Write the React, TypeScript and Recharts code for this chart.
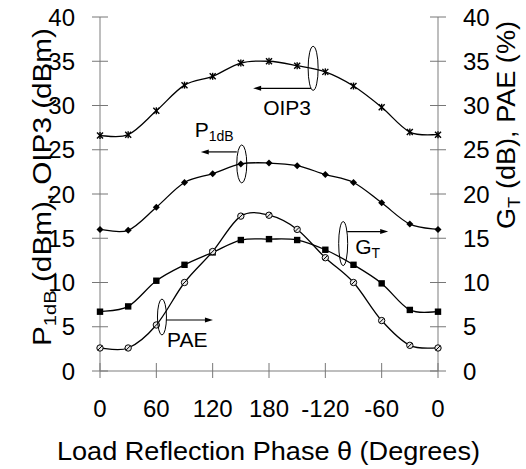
import React from 'react'
import { LineChart, Line, XAxis, YAxis, ReferenceDot } from 'recharts'

// phase in degrees, 0..360 (labelled 0..180, -120..0)
const phase = [0, 30, 60, 90, 120, 150, 180, 210, 240, 270, 300, 330, 360]
const oip3 = [26.6, 26.7, 29.4, 32.3, 33.3, 34.8, 35.0, 34.5, 33.8, 32.2, 29.8, 27.0, 26.7]
const p1db = [16.0, 15.9, 18.5, 21.3, 22.3, 23.4, 23.5, 23.2, 22.2, 21.3, 19.0, 16.6, 16.0]
const gt = [6.7, 7.3, 10.2, 12.0, 13.4, 14.8, 14.9, 14.8, 13.7, 12.0, 9.9, 6.9, 6.7]
const pae = [2.6, 2.6, 5.2, 10.0, 13.5, 17.5, 17.6, 16.0, 12.8, 10.0, 5.7, 2.9, 2.6]

const xTicks = [0, 60, 120, 180, 240, 300, 360]
const xTickLabels = ['0', '60', '120', '180', '-120', '-60', '0']
const yTicks = [0, 5, 10, 15, 20, 25, 30, 35, 40]

const data = phase.map((p, i) => ({ phase: p, oip3: oip3[i], p1db: p1db[i], gt: gt[i], pae: pae[i] }))

const FONT = '"Liberation Sans", Arial, sans-serif'
const AXIS_GRAY = '#a8a8a8'
const TICK_GRAY = '#777'
const W = 526
const H = 469
const LEFT_W = 100
const RIGHT_W = 88
const BOTTOM_H = 98
const AXIS_L = LEFT_W
const AXIS_R = W - RIGHT_W

// Excel-like smooth line (Catmull-Rom through every point)
function smooth(context: any) {
  let pts: number[][] = []
  return {
    areaStart() {},
    areaEnd() {},
    lineStart() { pts = [] },
    point(x: number, y: number) { pts.push([x, y]) },
    lineEnd() {
      const n = pts.length
      if (!n) return
      context.moveTo(pts[0][0], pts[0][1])
      for (let i = 0; i < n - 1; i++) {
        const p0 = pts[i - 1] || pts[i]
        const p1 = pts[i]
        const p2 = pts[i + 1]
        const p3 = pts[i + 2] || p2
        context.bezierCurveTo(
          p1[0] + (p2[0] - p0[0]) / 6, p1[1] + (p2[1] - p0[1]) / 6,
          p2[0] - (p3[0] - p1[0]) / 6, p2[1] - (p3[1] - p1[1]) / 6,
          p2[0], p2[1],
        )
      }
    },
  }
}

const StarDot = ({ cx, cy }: any) => (
  <g stroke="#000" strokeWidth={1.4}>
    <line x1={cx - 3} y1={cy - 3} x2={cx + 3} y2={cy + 3} />
    <line x1={cx - 3} y1={cy + 3} x2={cx + 3} y2={cy - 3} />
    <line x1={cx} y1={cy - 3.5} x2={cx} y2={cy + 3.5} />
  </g>
)
const DiamondDot = ({ cx, cy }: any) => (
  <polygon points={`${cx},${cy - 3.5} ${cx + 3.5},${cy} ${cx},${cy + 3.5} ${cx - 3.5},${cy}`} fill="#000" />
)
const SquareDot = ({ cx, cy }: any) => <rect x={cx - 3.2} y={cy - 3.2} width={6.4} height={6.4} fill="#000" />
const CircleDot = ({ cx, cy }: any) => (
  <g stroke="#000" strokeWidth={1}>
    <circle cx={cx} cy={cy} r={3.2} fill="#e8e8e8" />
    <line x1={cx - 2.2} y1={cy + 2.2} x2={cx + 2.2} y2={cy - 2.2} />
  </g>
)

const LeftTick = ({ y, payload }: any) => (
  <g>
    <line x1={AXIS_L - 8} y1={y} x2={AXIS_L + 8} y2={y} stroke={TICK_GRAY} />
    <text x={AXIS_L - 25} y={y} dy="0.36em" textAnchor="end" fontSize={24} fontFamily={FONT} fill="#000">{payload.value}</text>
  </g>
)
const RightTick = ({ y, payload }: any) => (
  <g>
    <line x1={AXIS_R - 8} y1={y} x2={AXIS_R + 8} y2={y} stroke={TICK_GRAY} />
    <text x={AXIS_R + 25} y={y} dy="0.36em" textAnchor="start" fontSize={24} fontFamily={FONT} fill="#000">{payload.value}</text>
  </g>
)
const BottomTick = ({ x, payload, index }: any) => {
  const y = H - BOTTOM_H
  return (
    <g>
      <line x1={x} y1={y - 8} x2={x} y2={y + 7} stroke={TICK_GRAY} />
      <text x={x} y={y + 46} textAnchor="middle" fontSize={24} fontFamily={FONT} fill="#000">
        {xTickLabels[index] ?? payload.value}
      </text>
    </g>
  )
}

const LeftTitle = () => (
  <text transform="translate(51,187) rotate(-90)" textAnchor="middle" fontSize={25} fontFamily={FONT} fill="#000"
    textLength={318} lengthAdjust="spacingAndGlyphs">
    P<tspan fontSize={17} dy={5}>1dB</tspan><tspan dy={-5}> (dBm), OIP3 (dBm)</tspan>
  </text>
)
const RightTitle = () => (
  <text transform="translate(515,125) rotate(-90)" textAnchor="middle" fontSize={25} fontFamily={FONT} fill="#000"
    textLength={208} lengthAdjust="spacingAndGlyphs">
    G<tspan fontSize={17} dy={5}>T</tspan><tspan dy={-5}> (dB), PAE (%)</tspan>
  </text>
)
const BottomTitle = () => (
  <text x={268.5} y={460} textAnchor="middle" fontSize={25} fontFamily={FONT} fill="#000"
    textLength={423} lengthAdjust="spacingAndGlyphs">
    Load Reflection Phase θ (Degrees)
  </text>
)

// ellipse marker + arrow + label for each curve group
function note(opts: { rx: number; ry: number; ay: number; ax1: number; ax2: number; label: React.ReactNode; lx: number; ly: number }) {
  return ({ cx, cy }: any) => {
    const { rx, ry, ay, ax1, ax2, label, lx, ly } = opts
    const dir = ax2 > ax1 ? 1 : -1
    const tipX = cx + ax2
    const tipY = cy + ay
    return (
      <g>
        <ellipse cx={cx} cy={cy} rx={rx} ry={ry} fill="none" stroke="#000" strokeWidth={1} />
        <line x1={cx + ax1} y1={tipY} x2={tipX - dir * 6} y2={tipY} stroke="#000" strokeWidth={1.2} />
        <polygon points={`${tipX},${tipY} ${tipX - dir * 8},${tipY - 2.5} ${tipX - dir * 8},${tipY + 2.5}`} fill="#000" />
        <text x={cx + lx} y={cy + ly} fontSize={21} fontFamily={FONT} fill="#000">{label}</text>
      </g>
    )
  }
}

const OipNote = note({ rx: 5, ry: 22, ay: 20, ax1: -2, ax2: -60, label: 'OIP3', lx: -50, ly: 47 })
const P1Note = note({
  rx: 5, ry: 19, ay: -12, ax1: -5, ax2: -41, lx: -47, ly: -27,
  label: (<>P<tspan fontSize={14} dy={4}>1dB</tspan></>),
})
const GtNote = note({
  rx: 4.5, ry: 22, ay: -12, ax1: 4, ax2: 45, lx: 12, ly: 10,
  label: (<>G<tspan fontSize={14} dy={4}>T</tspan></>),
})
const PaeNote = note({ rx: 4.5, ry: 18, ay: 3, ax1: 4, ax2: 51, label: 'PAE', lx: 5, ly: 30 })

export default function App() {
  return (
    <div style={{ position: 'absolute', left: 0, top: 0, background: '#fff' }}>
      <LineChart width={W} height={H} data={data} margin={{ top: 17, right: 0, bottom: 0, left: 0 }}>
        <XAxis
          dataKey="phase"
          type="number"
          domain={[0, 360]}
          ticks={xTicks}
          interval={0}
          height={BOTTOM_H}
          tickSize={0}
          tickMargin={0}
          tickLine={false}
          axisLine={{ stroke: AXIS_GRAY, strokeWidth: 1.5 }}
          tick={<BottomTick />}
          label={<BottomTitle />}
        />
        <YAxis
          yAxisId="left"
          domain={[0, 40]}
          ticks={yTicks}
          interval={0}
          width={LEFT_W}
          tickSize={0}
          tickMargin={0}
          tickLine={false}
          axisLine={{ stroke: AXIS_GRAY, strokeWidth: 1.5 }}
          tick={<LeftTick />}
          label={<LeftTitle />}
        />
        <YAxis
          yAxisId="right"
          orientation="right"
          domain={[0, 40]}
          ticks={yTicks}
          interval={0}
          width={RIGHT_W}
          tickSize={0}
          tickMargin={0}
          tickLine={false}
          axisLine={{ stroke: AXIS_GRAY, strokeWidth: 1.5 }}
          tick={<RightTick />}
          label={<RightTitle />}
        />
        <Line yAxisId="left" dataKey="oip3" type={smooth as any} stroke="#000" strokeWidth={1.3} dot={<StarDot />} activeDot={false} isAnimationActive={false} />
        <Line yAxisId="left" dataKey="p1db" type={smooth as any} stroke="#000" strokeWidth={1.3} dot={<DiamondDot />} activeDot={false} isAnimationActive={false} />
        <Line yAxisId="right" dataKey="gt" type={smooth as any} stroke="#000" strokeWidth={1.3} dot={<SquareDot />} activeDot={false} isAnimationActive={false} />
        <Line yAxisId="right" dataKey="pae" type={smooth as any} stroke="#000" strokeWidth={1.3} dot={<CircleDot />} activeDot={false} isAnimationActive={false} />
        <ReferenceDot yAxisId="left" x={227} y={34.2} shape={OipNote} />
        <ReferenceDot yAxisId="left" x={151} y={23.4} shape={P1Note} />
        <ReferenceDot yAxisId="right" x={259} y={14.4} shape={GtNote} />
        <ReferenceDot yAxisId="right" x={66} y={6.1} shape={PaeNote} />
      </LineChart>
    </div>
  )
}
